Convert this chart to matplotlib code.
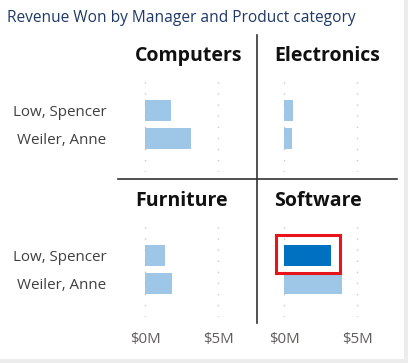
import matplotlib
matplotlib.use('Agg')
import matplotlib.pyplot as plt
from matplotlib.patches import Rectangle
from matplotlib.lines import Line2D

W, H = 408, 363
DPI = 100

managers = ['Low, Spencer', 'Weiler, Anne']
categories = ['Computers', 'Electronics', 'Furniture', 'Software']
# revenue won, $M
computers = [1.8, 3.15]
electronics = [0.6, 0.55]
furniture = [1.35, 1.85]
software = [3.25, 4.0]
xticks = [0, 5]
xtick_labels = ['$0M', '$5M']

values = {'Computers': computers, 'Electronics': electronics,
          'Furniture': furniture, 'Software': software}
highlight = ('Software', 'Low, Spencer')

LIGHT = '#9dc6e7'
DARK = '#0070c0'
FONT = 'Open Sans'


def px_axes(fig, left, top, width, height):
    return fig.add_axes([left / W, 1 - (top + height) / H, width / W, height / H])


fig = plt.figure(figsize=(W / DPI, H / DPI), dpi=DPI)
fig.patch.set_facecolor('white')

# panel boxes in pixels: (left, top)
positions = {
    'Computers': (130, 80), 'Electronics': (269, 80),
    'Furniture': (130, 225), 'Software': (269, 225),
}
xlim = (-1.03, 7.19)
ylim = (2.18, -1.1)

for cat in categories:
    l, t = positions[cat]
    ax = px_axes(fig, l, t, 120, 92)
    ax.set_xlim(xlim)
    ax.set_ylim(ylim)
    vals = values[cat]
    colors = [DARK if (cat, m) == highlight else LIGHT for m in managers]
    ax.barh(range(len(managers)), vals, height=0.75, color=colors, zorder=3)
    for i, m in enumerate(managers):
        if (cat, m) == highlight:
            ax.add_patch(Rectangle((-0.55, i - 0.73), vals[i] + 1.1, 1.33,
                                   fill=False, ec='#e8141c', lw=2.2, zorder=4,
                                   clip_on=False))
    for x in xticks:
        ax.axvline(x, color='#c8c8c8', lw=1, ls=(0, (1, 7)), zorder=1)
    for s in ax.spines.values():
        s.set_visible(False)
    ax.tick_params(length=0)
    ax.set_xticks(xticks)
    if t > 200:
        ax.set_xticklabels(xtick_labels, fontsize=10.8, color='#605e5c', family=FONT)
        ax.tick_params(axis='x', pad=11)
    else:
        ax.set_xticklabels([])
    ax.set_yticks(range(len(managers)))
    if l < 200:
        ax.set_yticklabels(managers, fontsize=10.9, color='#404040', family=FONT)
        ax.tick_params(axis='y', pad=17)
    else:
        ax.set_yticklabels([])
    fig.text((l + 5) / W, 1 - (t - 24) / H, cat, fontsize=14, fontweight='bold',
             family=FONT, color='#111111', va='center', ha='left')

# title
fig.text(7 / W, 1 - 18 / H, 'Revenue Won by Manager and Product category',
         fontsize=11.2, color='#1f3a66', family=FONT, va='center', ha='left')

# divider lines
fig.add_artist(Line2D([257 / W, 257 / W], [1 - 35 / H, 1 - 323 / H],
                      color='#333333', lw=1.2))
fig.add_artist(Line2D([118 / W, 397 / W], [1 - 179 / H, 1 - 179 / H],
                      color='#333333', lw=1.2))

# card border
fig.add_artist(Rectangle((404 / W, 0), 4 / W, 1, color='#ececec', lw=0))
fig.add_artist(Rectangle((0, 0), 1, 4 / H, color='#ececec', lw=0))

fig.savefig('out.png', dpi=DPI)
